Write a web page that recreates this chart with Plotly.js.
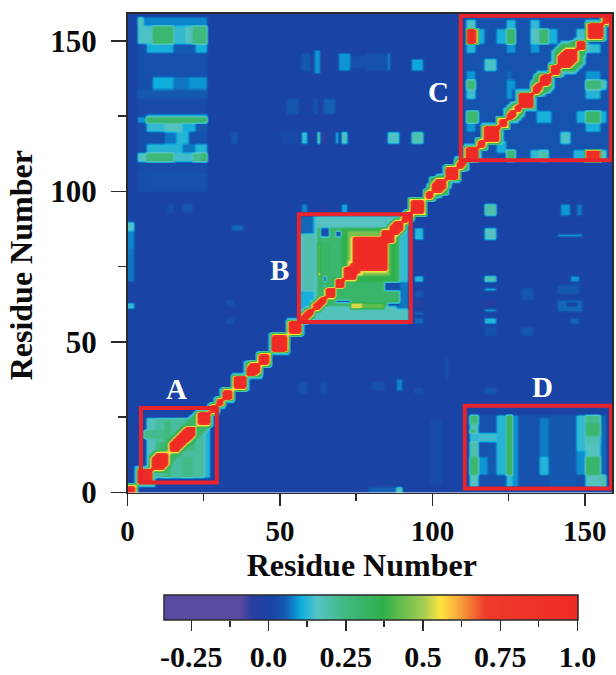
<!DOCTYPE html>
<html><head><meta charset="utf-8">
<script src="https://cdn.plot.ly/plotly-3.0.1.min.js"></script>
<style>html,body{margin:0;padding:0;background:#fff}#g{width:616px;height:675px}</style>
</head><body><div id="g"></div>
<script>
var SIZE = 159;
var baseValue = 0.005;
var zMin = -0.34, zMax = 1.0;

// Rectangles of similar correlation: [x0, x1, y0, y1, value] in residues.
var upperLeft = [
 [3,26.5,100,158,0.03],[3,5,154.6,158,0.17],[5,26.5,154.6,158,0.08],
 [3,8.5,149.3,154.6,0.15],[8.5,15,149.3,154.6,0.28],[15,19,149.3,154.6,0.13],[19,21.5,149.3,154.6,0.16],[21.5,26.5,149.3,154.6,0.25],
 [6,15,146,149.3,0.11],[15,22,146,149.3,0.05],[22,26.5,146,149.3,0.11],
 [3,26.5,137.7,146,0.035],[8,15,133.8,137.7,0.105],[15,20,133.8,137.7,0.07],[20,26.5,133.8,137.7,0.09],
 [3,26.5,131,133.8,0.05],[3,26.5,126.5,131,0.02],[6,26.5,125,126.5,0.1],
 [3,6,123,125,0.09],[6,26.5,123,125,0.29],[6,12,120,123,0.13],[12,18,120,123,0.16],[18,22,120,123,0.11],[22,26.5,120,123,0.05],
 [6,12,116,120,0.03],[12,16,116,120,0.07],[16,20,116,120,0.12],[20,26.5,116,120,0.03],
 [6,12,113,116,0.12],[12,18,113,116,0.12],[18,22,113,116,0.07],[22,26.5,113,116,0.12],
 [3,6,110,113,0.16],[6,15,110,113,0.26],[15,21,110,113,0.14],[21,24,110,113,0.22],[24,26.5,110,113,0.27],
 [3,26.5,106,110,0.025],[8,26.5,100,106,0.035]
];
var upperMiddle = [
 [57,60,140,146,0.05],[61,63,139,147,0.09],[64,65,139,146,-0.05],[69,73,140,146,0.09],[73,82,141,145,0.035],
 [52,56,126,131,0.05],[61,62,126,131,0.05],[64,68,126,131,0.055],
 [34,36,116,120,0.05],[50,56,116,120,0.02],[57,59,116,120,0.13],[62,63,116,120,0.2],[63,65,116,120,-0.06],[68,69,116,120,0.11],[70,72.5,116,120,0.17],
 [13,15,93,96,0.035],[18,21,93,96,0.045],[57,59,93,96,0.08],[63,65,93,96,-0.03],[70,72,93,96,0.1],
 [93,97,140,144,0.1],[84,86,140,146,0.08],[84.5,85.5,142,144,0.18],[85,88.7,116,120,0.15],[93,97,116,120,0.18],[78,85,140,146,0.035],
 [34.5,38,87,89,0.06],[0,2,87.5,90,0.15],[0,2,81,87.5,0.08],[0,2,70,81,0.07],[0,2,61,63,0.13],[32,35,62,64,0.03]
];
var rightMiddle = [
 [117,121,92,96,0.19],[117,121,84,88,0.16],[94,97,84.5,88,0.12],[94,97,70,72,0.12],[94,97,65.5,67,0.05],[94,97,62.5,64,-0.05],[94,97,59.5,60.5,0.06],[94,97,56.5,58,0.06],
 [117,121,70.5,72.5,0.18],[117,121,67.5,68.5,0.1],[117,121,62.5,64,-0.04],[117,121,60,61,0.09],[117,121,56,58,0.12],[117,121,52,55,0.035],
 [145,148,70,72,0.09],[141,148,66,69,0.05],[141,149,60,64,0.06],[144,147,62,63,-0.03],[145,148,56.5,58,0.06],
 [128.7,132.6,64,68,0.045],[128.7,132.6,52,55,0.045],[141.8,145,92,96,0.09],[147,149,92,96,0.07],
 [141,149,85,86,0.09]
];
var lowerMiddle = [
 [56,59,33.5,37,0.035],[63,65,33.5,37,0.035],[80,84,34,37,0.035],[88,90,34.5,38,0.08],[94,97,33.5,35,0.035],[117,121,33,35,0.05],[104,105,38,45,0.03],
 [99,103,3,25,0.025],[79.5,88,0,2,0.055],[88,90,0,2,0.18],[32,35,56,58,0.03]
];
var blockA = [
 [5,6.4,5,27,0.01],[5,27,26,27,0.01],[5,27,4.5,5.3,0.01],
 [6.4,27,5.3,25.5,0.205],[6.4,9,5.3,25.5,0.17],[21,27,21,25.5,0.14],[25,27,5.3,25.5,0.12],
 [9,22,14.5,17,0.25],[12,14.5,5.3,24,0.25],[18,21,5.3,12,0.24],[5.3,12,18,21,0.23]
];
var blockB = [
 [56.5,92.5,56.5,92.5,0.16],[56.5,61.5,86,92.5,0.06],[58,61.5,67.5,86,0.19],
 [56.5,61.5,58.7,67.5,0.11],[62,92.5,57,61,0.17],[89.3,92.5,61,92,0.13],[88,92,61,70,0.07],
 [62,89,62,88.5,0.3],[62,63.5,72,83,0.42],[62,63.5,72,73,0.55],[63.5,66,83,88,0.27],
 [73.5,84.5,61.5,63,0.42],[73.5,77,61.5,63,0.53],[70,88,70,88,0.36],[72.4,86,72,87.4,0.45],[66,70,72,86,0.28],
 [63,66.4,85,88,0.03],[68.5,70.2,84.8,87.5,0.05],[64,65.3,70,72.5,0.05],[64,65.3,67.5,68.7,0.05],
 [68,73,63,64,0.05],[84.5,88.8,67.5,69.7,0.03],[85.5,88.8,62.5,63.5,0.03]
];
var blockC = [
 [110.5,158,110.5,158,0.04],
 [110.8,114,154.3,157.4,0.16],[123.7,127,154.3,157.4,0.12],[132,134.6,154.3,157.4,0.13],[150.5,155,154.3,157.4,0.15],
 [114,117,149.4,154.3,0.11],[121,123.7,149.4,154.3,0.11],[123.7,127,149.4,154.3,0.29],[132,134.6,149.4,154.3,0.16],[134.6,138.4,149.4,154.3,0.28],[138.4,141,149.4,154.3,0.11],[147.5,150.5,149.4,154.3,0.14],
 [110.8,114,149.4,154.3,0.98],[114,114.8,149.4,154.3,0.56],
 [110.8,114,146.4,149.4,0.12],[123.7,127,146.4,149.4,0.09],[132,134.6,146.4,149.4,0.09],[147,150.5,146.4,149.4,0.11],[150.5,155,146.4,149.4,0.13],
 [117,121,140,144,0.15],[110.8,114,137,140,0.09],[123.7,126.5,137,140,0.06],[150.5,155,137,140,0.09],
 [110.8,114,133.6,137,0.26],[123.7,127,133.6,137,0.09],[150.5,155,133.6,137,0.26],[155,157,133.6,137,0.18],
 [110.8,114,131.4,133.6,0.14],[123.7,126,131.4,133.6,0.09],[150.5,155,131.4,133.6,0.12],
 [110.8,115,122.6,127,0.28],[134,139,122.6,127,0.11],[150,155.4,122.6,127,0.29],[147,150,122.6,127,0.11],[155.4,157,122.6,127,0.11],
 [110.8,114,120.5,122.6,0.09],[150,155.4,120.5,122.6,0.11],[141.7,145,116.5,120,0.15],[114,116,116,120,0.02],
 [123.7,127,110.5,113.8,0.26],[132,134.6,110.5,113.8,0.13],[134.6,138,110.5,113.8,0.19],[146.5,150.5,110.5,113.8,0.12],[155.4,157.5,110.5,113.8,0.16],
 [150.5,155.4,113.8,114.4,0.56],[150.5,155.4,110.5,113.8,0.9],[121,123.7,113,117,0.11]
];
var blockD = [
 [111.6,157.5,2.3,25.8,0.035],
 [111.6,115.5,22.8,25.8,0.26],[111.6,115.5,20,22.8,0.17],[112.5,114,20.5,21.5,0.28],[111.6,115.5,16.8,20,0.13],[111.6,115.5,12,16.8,0.19],[111.6,115.5,5.8,12,0.28],[111.6,115.5,2.3,5.8,0.16],
 [115.5,121,16.8,20,0.14],[115.5,118,5.8,12,0.09],[118,121,5.8,16.8,0.05],[121,123.7,2.3,25.8,0.12],[121,123.7,2.3,5.8,0.04],
 [123.7,126.5,5.8,25.8,0.32],[123.7,126.5,2.3,5.8,0.13],[126.5,128,2.3,25.8,0.085],
 [135,138.5,12,25,0.075],[135,138.5,5.8,12,0.12],[138.5,147,2.3,25.8,0.05],
 [147.5,150,14,25.8,0.13],[147.5,150,5.8,14,0.085],
 [150,155.5,22.8,25.8,0.23],[150,155.5,19,22.8,0.28],[150,155.5,16,19,0.18],[150,155.5,12,16,0.16],[150,155.5,5.8,12,0.29],[150,155.5,2.3,5.8,0.16],
 [155.5,157.5,2.3,5.8,0.19],[155.5,157.5,5.8,25.8,0.06]
];
// Broad lenses of correlation along the diagonal: [first, last, half-width, value].
var diagonalBands = [
 [7,27,4,0.3],[98,106,3,0.25],[124,130,3,0.3],[133,139,4,0.33],[139.5,150,6,0.33]
];
// Red lens along the diagonal: [first residue, last residue, red half-width, green halo width].
var diagonalLobes = [
 [0,2,2,0],[3.5,7.5,4,0],[8,13,3,1],[14,21.5,2,1],[23,26.5,3,1],[27,29,1,0],[29.5,31,1,1],
 [31.5,34,2,0],[35,38.5,3,0],[39.5,43,2,1],[43,46,2,1],[47.5,52,4,0],[53,56.5,3,0],[57,60.5,1,0],[61,64.5,1,0],
 [65,67.5,2,0],[68.5,70.7,2,0],[71,74.5,3,0],[73,76,5,0],[74,84.5,14,0],[83.5,87,4,0],[86,90,2,0],[90,93,1,0],
 [93,97,4,0],[98,100,1,1],[100,104,2,2],[104.5,108,3,1],[108,110.5,1,1],[111,114.5,3,0],[115,117,1,1],
 [117,121.5,4,0],[122,124,2,0],[124.5,127,1,1],[127,128.5,1,1],[128.5,132.5,4,0],[133,135.5,1,2],
 [135.5,138.5,2,2],[139,141.5,2,1],[141.5,147,3,2],[147.5,149.5,2,0],[151,155.5,5,0],[156,158.9,1,0]
];
// Values on the rings round each lobe, outer to inner: teal, green, yellow, red.
var haloLevels = [0.17,0.33,0.56,0.98];

var regionBoxes = [[4.4,29.3,3.3,28.1],[56.2,92.9,56.6,92.4],[109.3,158.6,110.3,158.3],[110.6,158.6,1.3,28.8]];
var regionNames = ['A','B','C','D'];
var regionNameX = [16,50,102,136];
var regionNameY = [34.5,74,133,35];

var axisMajor = [0,50,100,150];
var axisMinor = [25,75,125];
var barMajor = [-0.25,0,0.25,0.5,0.75,1.0];
var barMajorText = ['-0.25','0.0','0.25','0.5','0.75','1.0'];
var barMinor = [-0.125,0.125,0.375,0.625,0.875];

var colorValues = [-0.34,-0.09,-0.06,0.005,0.05,0.08,0.105,0.155,0.25,0.37,0.5,0.555,0.62,0.7,1.0];
var colorStops = ['#5a4aa0','#5a4aa0','#2c3f9e','#1a43a6','#1458b0','#0d85cc','#10aedd','#55c3c5','#3fb97d','#2fb04a','#a5cc52','#fde340','#f7a13a','#ef3b2a','#ee2a24'];

var z = [], axisCells = [];
for (var r = 0; r < SIZE; r++) {
  axisCells.push(r + 0.5);
  var row = [];
  for (var c = 0; c < SIZE; c++) row.push(baseValue);
  z.push(row);
}
[upperLeft, upperMiddle, rightMiddle, lowerMiddle, blockA, blockB, blockC, blockD].forEach(function (list) {
  list.forEach(function (p) {
    for (var y = 0; y < SIZE; y++) for (var x = 0; x < SIZE; x++) {
      var cx = x + 0.5, cy = y + 0.5;
      if (cx >= p[0] && cx < p[1] && cy >= p[2] && cy < p[3]) z[y][x] = p[4];
    }
  });
});
function raise(y, x, v) { if (z[y][x] < v) z[y][x] = v; }
diagonalBands.forEach(function (b) {
  for (var y = 0; y < SIZE; y++) for (var x = 0; x < SIZE; x++) {
    var cx = x + 0.5, cy = y + 0.5, d = Math.abs(cx - cy), s = (cx + cy) / 2;
    var edge = Math.min(s - b[0], b[1] - s) * 1.6;
    if (s >= b[0] && s <= b[1] && d <= Math.min(edge, b[2])) raise(y, x, b[3]);
    else if (s >= b[0] - 1 && s <= b[1] + 1 && d <= Math.min(edge + 1.5, b[2] + 1.5)) raise(y, x, haloLevels[0]);
  }
});
diagonalLobes.forEach(function (l) {
  for (var y = 0; y < SIZE; y++) for (var x = 0; x < SIZE; x++) {
    var cx = x + 0.5, cy = y + 0.5, d = Math.abs(cx - cy);
    var lo = Math.min(cx, cy), hi = Math.max(cx, cy);
    if (lo >= l[0] - 1.0 && hi <= l[1] + 1.0 && d <= l[2] + l[3] + 2) raise(y, x, haloLevels[0]);
    if (lo >= l[0] - 0.6 && hi <= l[1] + 0.6 && d <= l[2] + l[3] + 1) raise(y, x, haloLevels[1]);
    if (lo >= l[0] - 0.6 && hi <= l[1] + 0.6 && d <= l[2] + 1) raise(y, x, haloLevels[2]);
    if (lo >= l[0] && hi <= l[1] && d <= l[2]) raise(y, x, haloLevels[3]);
  }
});

var scale = colorValues.map(function (v, i) { return [(v - zMin) / (zMax - zMin), colorStops[i]]; });
var serif = '"Liberation Serif", "Times New Roman", serif';
var W = 616, H = 675;
var lineColor = '#2a2a2a';

var traces = [{
  type: 'heatmap', x: axisCells, y: axisCells, z: z, zmin: zMin, zmax: zMax,
  colorscale: scale, zsmooth: 'best', hoverinfo: 'skip',
  colorbar: {
    orientation: 'h', xref: 'paper', yref: 'paper',
    x: 163.5 / W, xanchor: 'left', y: 78 / H, yanchor: 'top',
    lenmode: 'pixels', len: 413.5, thicknessmode: 'pixels', thickness: 25,
    xpad: 0, ypad: 0, outlinecolor: lineColor, outlinewidth: 1.5, borderwidth: 0,
    tickmode: 'array', tickvals: barMajor, ticktext: barMajorText,
    ticks: 'outside', ticklen: 11, tickwidth: 1.5, tickcolor: lineColor,
    tickfont: { family: serif, size: 30, color: '#0a0a0a', weight: 700 }
  }
}, {
  type: 'scatter', mode: 'markers', x: [null], y: [null], xaxis: 'x2', yaxis: 'y2',
  showlegend: false, hoverinfo: 'skip'
}];

var layout = {
  width: W, height: H, paper_bgcolor: '#fff', plot_bgcolor: 'rgba(0,0,0,0)', showlegend: false,
  margin: { l: 0, r: 0, t: 0, b: 0, pad: 0 },
  font: { family: serif, color: '#0a0a0a' },
  xaxis: {
    domain: [127.5 / W, 612 / W], range: [0, 158.9], showgrid: false, zeroline: false,
    showline: true, mirror: true, linecolor: lineColor, linewidth: 1.5,
    tickmode: 'array', tickvals: axisMajor, ticks: 'outside', ticklen: 12, tickwidth: 1.5, tickcolor: lineColor,
    minor: { tickmode: 'array', tickvals: axisMinor, ticks: 'outside', ticklen: 7, tickwidth: 1.5, tickcolor: lineColor, showgrid: false },
    tickfont: { family: serif, size: 29, weight: 700 }, ticklabelstandoff: 0,
    title: { text: 'Residue Number&nbsp;&nbsp;', font: { family: serif, size: 32, weight: 700 }, standoff: 4 }
  },
  yaxis: {
    domain: [(H - 494) / H, (H - 14) / H], range: [0, 158.9], showgrid: false, zeroline: false,
    showline: true, mirror: true, linecolor: lineColor, linewidth: 1.5,
    tickmode: 'array', tickvals: axisMajor, ticks: 'outside', ticklen: 15, tickwidth: 1.5, tickcolor: lineColor,
    minor: { tickmode: 'array', tickvals: axisMinor, ticks: 'outside', ticklen: 8, tickwidth: 1.5, tickcolor: lineColor, showgrid: false },
    tickfont: { family: serif, size: 31, weight: 700 }, ticklabelstandoff: 8,
    title: { text: 'Residue Number&nbsp;&nbsp;&nbsp;', font: { family: serif, size: 32, weight: 700 }, standoff: 8 }
  },
  xaxis2: {
    domain: [163.5 / W, 577 / W], range: [zMin, zMax], anchor: 'y2', showgrid: false, zeroline: false, showline: false,
    tickmode: 'array', tickvals: barMinor, ticks: 'outside', ticklen: 6, tickwidth: 1.5, tickcolor: lineColor, showticklabels: false
  },
  yaxis2: { domain: [53 / H, 78 / H], range: [0, 1], anchor: 'x2', visible: false },
  shapes: regionBoxes.map(function (b) {
    return { type: 'rect', xref: 'x', yref: 'y', x0: b[0], x1: b[1], y0: b[2], y1: b[3], line: { color: '#e8232c', width: 4 }, fillcolor: 'rgba(0,0,0,0)' };
  }),
  annotations: regionNames.map(function (n, i) {
    return { x: regionNameX[i], y: regionNameY[i], xref: 'x', yref: 'y', text: n, showarrow: false, font: { family: serif, size: 29, color: '#fff', weight: 700 } };
  })
};
Plotly.newPlot('g', traces, layout, { staticPlot: true, displayModeBar: false });
</script></body></html>
